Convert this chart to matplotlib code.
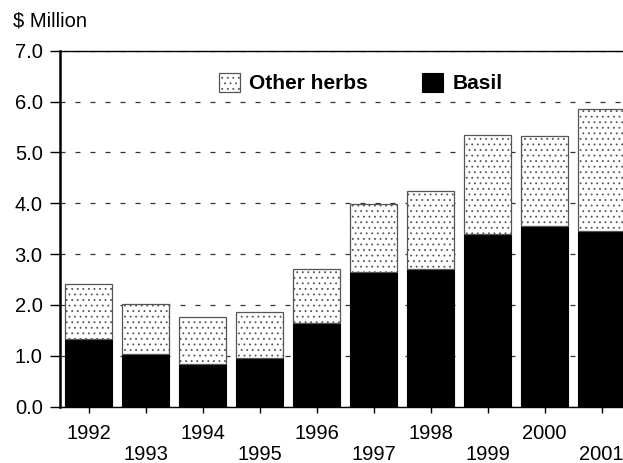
import matplotlib.pyplot as plt
import numpy as np

plt.rcParams['font.family'] = ['Liberation Sans', 'DejaVu Sans']
plt.rcParams['hatch.linewidth'] = 0.6

years = ['1992', '1993', '1994', '1995', '1996', '1997', '1998', '1999', '2000', '2001']
basil = [1.34, 1.04, 0.84, 0.95, 1.65, 2.65, 2.70, 3.39, 3.55, 3.46]
other_herbs = [1.08, 0.97, 0.92, 0.92, 1.06, 1.33, 1.54, 1.96, 1.78, 2.39]
y_ticks = [0.0, 1.0, 2.0, 3.0, 4.0, 5.0, 6.0, 7.0]

fig = plt.figure(figsize=(6.23, 4.63), dpi=100)
ax = fig.add_axes([60 / 623, 1 - 406.7 / 463, 570 / 623, 356 / 463])

x = np.arange(len(years))
ax.bar(x, basil, width=0.82, color='black', edgecolor='black', linewidth=0.8,
       label='Basil', zorder=2)
ax.bar(x, other_herbs, width=0.82, bottom=basil, color='white', edgecolor='#555555',
       hatch='...', linewidth=0.9, label='Other herbs', zorder=2)

ax.set_xlim(-0.5, 9.5)
ax.set_ylim(0, 7)
ax.set_yticks(y_ticks)
ax.set_yticklabels([f'{v:.1f}' for v in y_ticks], fontsize=14.5)
ax.set_xticks(x)
ax.set_xticklabels([y if i % 2 == 0 else '\n' + y for i, y in enumerate(years)],
                   fontsize=14.5, linespacing=1.1)

ax.yaxis.grid(True, linestyle=(0, (4, 8)), color='#333333', linewidth=0.9, zorder=0)
ax.set_axisbelow(True)
ax.tick_params(axis='y', length=7.5, width=1, direction='out', pad=5)
ax.tick_params(axis='x', length=4.5, width=1, direction='out', pad=8)

ax.spines['left'].set_linewidth(1.8)
ax.spines['bottom'].set_linewidth(1.0)
ax.spines['top'].set_linewidth(1.0)
ax.spines['right'].set_visible(False)

handles, labels = ax.get_legend_handles_labels()
leg = ax.legend(handles[::-1], labels[::-1], loc='upper center', bbox_to_anchor=(0.528, 0.99),
                ncol=2, frameon=False, prop={'weight': 'bold', 'size': 15},
                handlelength=1.0, handleheight=1.0, columnspacing=2.6, handletextpad=0.45)

fig.text(13 / 623, 1 - 21 / 463, '$ Million', fontsize=14.5, va='center', ha='left')

fig.savefig('out.png', dpi=100)
